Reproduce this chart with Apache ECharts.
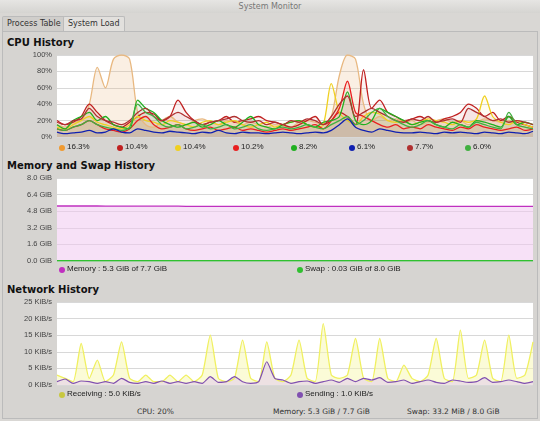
<!DOCTYPE html>
<html><head><meta charset="utf-8">
<script src="https://cdn.jsdelivr.net/npm/echarts@6/dist/echarts.min.js"></script>
<style>
body{margin:0;width:540px;height:421px;overflow:hidden;background:#d9d7d4;font-family:"DejaVu Sans",sans-serif;position:relative}
#bar{position:absolute;left:0;top:0;width:540px;height:13px;background:linear-gradient(#e6e5e3,#d5d4d1);font-size:8px;color:#777;text-align:center;line-height:13px}
.tab{position:absolute;top:16px;height:14px;font-size:8px;color:#333;line-height:14px;padding:0 4px;border:1px solid #bbb;border-bottom:none;border-radius:2px 2px 0 0}
#panel{position:absolute;left:2px;top:31px;width:534px;height:386px;border:1px solid #bbb;background:#d6d4d1}
#c{position:absolute;left:0;top:0;width:540px;height:421px}
.h{position:absolute;left:7px;font-size:10px;font-weight:bold;color:#111}
.st{position:absolute;top:407px;font-size:7.5px;color:#333}
</style></head><body>
<div id="bar">System Monitor</div>
<div class="tab" style="left:2px;background:#d0cecb">Process Table</div>
<div class="tab" style="left:63px;background:#e2e0dd">System Load</div>
<div id="panel"></div>
<div class="h" style="top:37px">CPU History</div>
<div class="h" style="top:160px">Memory and Swap History</div>
<div class="h" style="top:284px">Network History</div>
<div class="st" style="left:137px">CPU: 20%</div>
<div class="st" style="left:273px">Memory: 5.3 GiB / 7.7 GiB</div>
<div class="st" style="left:407px">Swap: 33.2 MiB / 8.0 GiB</div>
<div id="c"></div>
<script>
const cpuNames=["16.3%","10.4%","10.4%","10.2%","8.2%","6.1%","7.7%","6.0%"];
const cpuColors=["#e8b880","#c02020","#f0d020","#e82020","#20b020","#1020b0","#b03030","#40b040"];
const cpu0=[15,12,18,20,40,85,60,95,100,95,30,15,12,20,25,18,15,20,22,18,15,20,18,15,18,15,12,15,14,12,18,20,18,15,25,75,100,95,40,20,25,20,22,18,20,15,18,20,22,18,20,15,18,22,20,18,20,15,12,10];
const cpu1=[20,15,18,25,40,30,20,15,12,18,25,30,28,20,25,45,30,20,15,18,20,25,18,20,22,25,20,18,15,12,15,20,25,15,20,30,25,15,82,35,45,30,25,20,22,25,20,18,22,25,30,40,35,25,30,20,25,18,15,12];
const cpu2=[12,10,15,20,25,18,15,12,10,15,25,20,18,15,20,18,15,12,18,20,15,18,20,15,12,15,18,12,15,18,20,15,12,15,65,30,20,15,25,30,28,20,18,20,15,18,22,20,18,15,20,18,22,50,25,18,15,20,15,12];
const cpu3=[10,8,12,15,20,15,10,8,6,10,20,25,15,10,12,15,10,8,10,12,8,10,12,8,10,8,6,8,10,8,10,12,15,10,20,35,68,30,25,20,15,12,15,10,12,10,15,12,10,8,12,10,15,12,10,8,10,12,8,10];
const cpu4=[15,10,20,25,30,20,25,15,12,10,45,35,30,20,15,12,15,18,12,15,20,15,12,18,25,15,12,10,15,18,20,15,12,18,20,25,55,20,15,20,35,30,25,20,15,18,20,15,12,18,15,12,20,18,15,12,25,15,18,15];
const cpu5=[6,4,5,6,8,5,6,10,6,5,10,8,6,5,7,6,5,4,6,5,8,5,4,6,5,5,4,5,6,5,4,5,6,5,8,15,22,12,8,6,10,8,6,5,5,6,5,4,6,5,6,5,4,6,5,4,6,5,4,7];
const cpu6=[18,15,20,22,35,25,20,18,15,20,30,35,25,20,25,30,25,20,15,18,20,22,25,20,18,20,15,18,15,20,18,22,20,15,25,40,50,25,30,35,30,25,20,18,22,20,25,18,20,22,18,35,30,25,20,22,18,20,18,15];
const cpu7=[10,8,12,15,20,15,12,10,8,12,40,30,25,15,12,15,10,12,15,10,12,15,10,12,15,10,8,10,12,10,12,15,12,10,15,20,25,15,20,30,35,25,20,15,12,15,20,15,12,10,15,12,18,15,12,10,30,15,12,10];
const cpuAll=[cpu0,cpu1,cpu2,cpu3,cpu4,cpu5,cpu6,cpu7];
const memVals=[5.3,5.3,5.3,5.3,5.3,5.3,5.29,5.29,5.29,5.29,5.28,5.28,5.28,5.28,5.28,5.28,5.27,5.27,5.27,5.27,5.27,5.27,5.27,5.27,5.27,5.27,5.26,5.26,5.26,5.26,5.26,5.26,5.26,5.26,5.26,5.26,5.26,5.26,5.26,5.26,5.26,5.26,5.26,5.26,5.26,5.26,5.26,5.26,5.26,5.26,5.26,5.26,5.26,5.26,5.26,5.26,5.26,5.26,5.26,5.26];
const swapVals=new Array(60).fill(0.03);
const recv=[3,2,1,12.5,2,7.5,1,3,13,2,1,3,1,1,3,1,3,1,3,15,2,1,2,13.5,2,1,13,2,1,3,13.5,2,1,18.5,3,2,3,14,2,1,14,2,1,6,2,1,3,14,2,1,16.5,2,3,13.5,2,1,15,2,3,13];
const send=[1,1.8,0.5,1.2,1,0.5,1,0.5,2,0.8,0.5,1,0.5,1.2,0.5,1,0.5,1,0.5,2.5,0.8,1,2.5,1,0.5,1,7,2,1.5,0.5,1,1.2,0.5,1,1.5,0.8,2,1,2,1.5,2.2,0.8,1,1.5,0.5,1,1.5,0.8,0.5,1.5,1.2,0.8,1,2.2,0.8,1,1.5,1,0.5,1];
const x=cpu0.map((_,i)=>i);
const ax={axisLine:{show:false},axisTick:{show:false},axisLabel:{fontSize:7.5,color:"#444",margin:5},splitLine:{lineStyle:{color:"#d8d8d8"}}};
const grids=[{left:57,right:7,top:55,height:82},{left:57,right:7,top:178,height:83},{left:57,right:7,top:302,height:83}];
const series=[];
cpuAll.forEach((d,k)=>series.push({type:"line",name:cpuNames[k],data:d,xAxisIndex:0,yAxisIndex:0,symbol:"none",smooth:0.3,lineStyle:{width:1.3,color:cpuColors[k]},areaStyle:{color:cpuColors[k],opacity:k==0?0.22:0.06},z:k==5?5:2}));
series.push({type:"line",data:memVals,xAxisIndex:1,yAxisIndex:1,symbol:"none",lineStyle:{width:1.3,color:"#c030c0"},areaStyle:{color:"#f0c8f0",opacity:0.55}});
series.push({type:"line",data:swapVals,xAxisIndex:1,yAxisIndex:1,symbol:"none",lineStyle:{width:1.5,color:"#30c030"}});
series.push({type:"line",data:recv,xAxisIndex:2,yAxisIndex:2,symbol:"none",smooth:0.2,lineStyle:{width:1.3,color:"#f0f060"},areaStyle:{color:"#f8f8b0",opacity:0.5}});
series.push({type:"line",data:send,xAxisIndex:2,yAxisIndex:2,symbol:"none",smooth:0.2,lineStyle:{width:1.2,color:"#8050b0"},areaStyle:{color:"#e0c8f0",opacity:0.5}});
const gr=[];
cpuNames.forEach((n,k)=>{const lx=62+k*58;gr.push({type:"circle",shape:{cx:lx,cy:148,r:3},style:{fill:k==0?"#f09a30":cpuColors[k]}});gr.push({type:"text",left:lx+5,top:143,style:{text:n,fontSize:8,fill:"#222"}});});
[[62,270,"#c030c0","Memory : 5.3 GiB of 7.7 GiB"],[300,270,"#30c030","Swap : 0.03 GiB of 8.0 GiB"],[62,395,"#c8c840","Receiving : 5.0 KiB/s"],[300,395,"#8050b0","Sending : 1.0 KiB/s"]].forEach(a=>{gr.push({type:"circle",shape:{cx:a[0],cy:a[1],r:3},style:{fill:a[2]}});gr.push({type:"text",left:a[0]+5,top:a[1]-5,style:{text:a[3],fontSize:8,fill:"#222"}});});
const chart=echarts.init(document.getElementById("c"));
chart.setOption({animation:false,grid:grids.map(g=>Object.assign({backgroundColor:"#fff",show:true,borderWidth:0},g)),
xAxis:[0,1,2].map(i=>({type:"category",gridIndex:i,data:x,boundaryGap:false,show:false})),
yAxis:[
Object.assign({type:"value",gridIndex:0,min:0,max:100,interval:20},ax,{axisLabel:Object.assign({},ax.axisLabel,{formatter:v=>v+"%"})}),
Object.assign({type:"value",gridIndex:1,min:0,max:8,interval:1.6},ax,{axisLabel:Object.assign({},ax.axisLabel,{formatter:v=>v.toFixed(1)+" GiB"})}),
Object.assign({type:"value",gridIndex:2,min:0,max:25,interval:5},ax,{axisLabel:Object.assign({},ax.axisLabel,{formatter:v=>v+" KiB/s"})})],
series:series,graphic:gr});
</script></body></html>
